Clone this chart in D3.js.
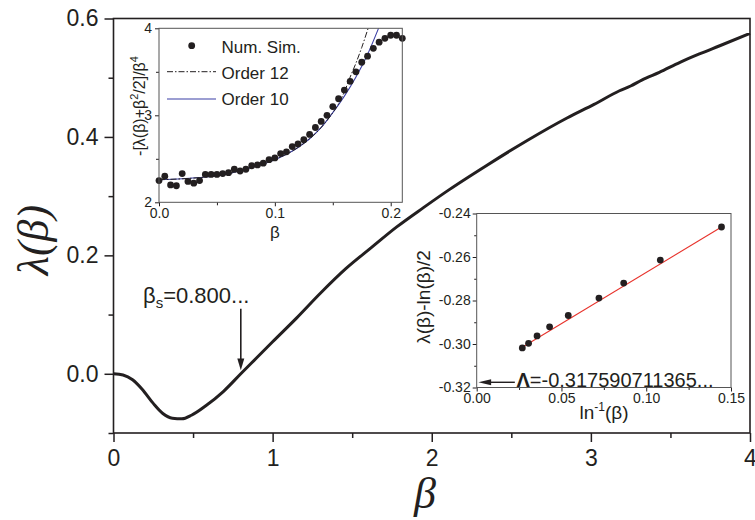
<!DOCTYPE html>
<html>
<head>
<meta charset="utf-8">
<script src="https://cdn.jsdelivr.net/npm/d3@7"></script>
<style>
  body { margin: 0; background: #fff; }
  svg text { font-family: "Liberation Sans", Arial, Helvetica, sans-serif; fill: #231f20; }
</style>
</head>
<body>
<svg id="chart" width="755" height="520"></svg>
<script>
// ---- main curve: Lyapunov exponent λ(β) ----
const betaMain = [0, 0.06, 0.12, 0.18, 0.25, 0.31, 0.37, 0.43, 0.49, 0.58, 0.69, 0.8, 0.9, 1.0,
  1.15, 1.3, 1.46, 1.62, 1.78, 1.95, 2.11, 2.34, 2.6, 2.85, 3.02, 3.18, 3.25, 3.32,
  3.43, 3.56, 3.69, 3.81, 4.0];
const lambdaMain = [0, -0.002, -0.010, -0.026, -0.050, -0.067, -0.075, -0.076, -0.070, -0.054,
  -0.030, 0.0, 0.027, 0.054, 0.094, 0.136, 0.1775, 0.213, 0.248, 0.281, 0.311, 0.351,
  0.394, 0.432, 0.455, 0.478, 0.486, 0.496, 0.509, 0.526, 0.541, 0.554, 0.575];
const mainXTicks = [0, 1, 2, 3, 4];
const mainXMinor = [0.5, 1.5, 2.5, 3.5];
const mainYTicks = [0.0, 0.2, 0.4, 0.6];
const mainYMinor = [-0.1, 0.1, 0.3, 0.5];
const betaS = 0.8;

// ---- small-β inset: -[λ(β)+β²/2]/β⁴ ----
const betaSmall = [0, 0.005, 0.01, 0.015, 0.02, 0.025, 0.03, 0.035, 0.04, 0.045, 0.05, 0.055,
  0.06, 0.065, 0.07, 0.075, 0.08, 0.085, 0.09, 0.095, 0.1, 0.105, 0.11, 0.115, 0.12, 0.125,
  0.13, 0.135, 0.14, 0.145, 0.15, 0.155, 0.16, 0.165, 0.17, 0.175, 0.18, 0.185, 0.19, 0.195,
  0.2, 0.205, 0.21];
const simValues = [2.25, 2.30, 2.20, 2.19, 2.33, 2.24, 2.22, 2.25, 2.32, 2.32, 2.32, 2.33,
  2.34, 2.38, 2.36, 2.38, 2.42, 2.43, 2.45, 2.49, 2.51, 2.56, 2.58, 2.64, 2.67, 2.72,
  2.78, 2.86, 2.93, 3.00, 3.10, 3.19, 3.29, 3.39, 3.50, 3.61, 3.68, 3.77, 3.84, 3.885,
  3.92, 3.92, 3.885];
const order10Beta = [0, 0.02, 0.04, 0.06, 0.08, 0.10, 0.12, 0.13, 0.14, 0.15, 0.16, 0.17, 0.18, 0.1895];
const order10Values = [2.26, 2.27, 2.29, 2.33, 2.40, 2.49, 2.63, 2.73, 2.86, 3.03, 3.22, 3.44, 3.70, 4.0];
const order12Beta = [0, 0.02, 0.04, 0.06, 0.08, 0.10, 0.12, 0.13, 0.14, 0.15, 0.155, 0.16, 0.165, 0.17, 0.175, 0.1805];
const order12Values = [2.26, 2.27, 2.29, 2.33, 2.40, 2.49, 2.63, 2.73, 2.86, 3.03, 3.13, 3.27, 3.44, 3.60, 3.78, 4.0];
const smallXTicks = [0, 0.1, 0.2];
const smallXMinor = [0.05, 0.15];
const smallYTicks = [2, 3, 4];
const smallYMinor = [2.5, 3.5];
const legendLabels = ["Num. Sim.", "Order 12", "Order 10"];

// ---- large-β inset: λ(β) - ln(β)/2 against 1/ln(β) ----
const invLogBeta = [0.0269, 0.0306, 0.0356, 0.0430, 0.0540, 0.0721, 0.0867, 0.1083, 0.1444];
const residual = [-0.3018, -0.2997, -0.2963, -0.2921, -0.2869, -0.2789, -0.2720, -0.2614, -0.2462];
const fitInvLog = [0.0269, 0.1444];
const fitResidual = [-0.3015, -0.2462];
const lambdaConst = -0.3176;
const largeXTicks = [0, 0.05, 0.10, 0.15];
const largeXMinor = [0.025, 0.075, 0.125];
const largeYTicks = [-0.32, -0.30, -0.28, -0.26, -0.24];
const largeYMinor = [-0.31, -0.29, -0.27, -0.25];

const ink = "#231f20";
const svg = d3.select("#chart");

// Draws major + minor outward ticks for one axis
function drawAxis(g, axisFn, scale, major, minor, majorLen, minorLen, fmt, fontSize, pad, width) {
  const a = g.append("g").call(axisFn(scale).tickValues(major).tickSize(majorLen)
    .tickPadding(pad).tickFormat(fmt));
  a.select(".domain").remove();
  a.selectAll("line").attr("stroke", ink).attr("stroke-width", width);
  a.selectAll("text").attr("font-size", fontSize).attr("font-family", null).attr("fill", ink)
    .text(function () { return this.textContent.replace("−", "-"); });
  const m = g.append("g").call(axisFn(scale).tickValues(minor).tickSize(minorLen).tickFormat(""));
  m.select(".domain").remove();
  m.selectAll("line").attr("stroke", ink).attr("stroke-width", width);
  return a;
}

// ================= main panel =================
const M = { left: 113.5, right: 750, top: 18.5, bottom: 433 };
const x = d3.scaleLinear().domain([0, 4]).range([M.left, M.right]);
const y = d3.scaleLinear().domain([-0.1, 0.6]).range([M.bottom, M.top]);

const gx = svg.append("g").attr("transform", `translate(0,${M.bottom})`);
drawAxis(gx, d3.axisBottom, x, mainXTicks, mainXMinor, 9, 5, d3.format("d"), 23, 8, 1.5);
const gy = svg.append("g").attr("transform", `translate(${M.left},0)`);
drawAxis(gy, d3.axisLeft, y, mainYTicks, mainYMinor, 9, 5, d3.format(".1f"), 23, 6, 1.5);

svg.append("rect").attr("x", M.left).attr("y", M.top)
  .attr("width", M.right - M.left).attr("height", M.bottom - M.top)
  .attr("fill", "none").attr("stroke", ink).attr("stroke-width", 1.6);

const mainLine = d3.line().x((d, i) => x(betaMain[i])).y(d => y(d)).curve(d3.curveMonotoneX);
svg.append("path").datum(lambdaMain).attr("d", mainLine)
  .attr("fill", "none").attr("stroke", ink).attr("stroke-width", 3).attr("stroke-linejoin", "round");

// axis titles
svg.append("text").attr("x", 425).attr("y", 508).attr("text-anchor", "middle")
  .style("font-family", "'Liberation Serif', 'Times New Roman', serif")
  .attr("font-style", "italic").attr("font-size", 44).text("β");
svg.append("text").attr("transform", "translate(48,240) rotate(-90)").attr("text-anchor", "middle")
  .style("font-family", "'Liberation Serif', 'Times New Roman', serif")
  .attr("font-style", "italic").attr("font-size", 44).text("λ(β)");

// β_s annotation with arrow
const bsLabel = svg.append("text").attr("x", 143).attr("y", 303).attr("font-size", 22);
bsLabel.append("tspan").text("β");
bsLabel.append("tspan").attr("font-size", 15).attr("dy", 5).text("s");
bsLabel.append("tspan").attr("dy", -5).text("=0.800...");
svg.append("line").attr("x1", x(betaS)).attr("x2", x(betaS))
  .attr("y1", y(0.11)).attr("y2", y(0.02)).attr("stroke", ink).attr("stroke-width", 1.6);
svg.append("path")
  .attr("d", `M${x(betaS) - 3.5},${y(0.026)} L${x(betaS) + 3.5},${y(0.026)} L${x(betaS)},${y(0.006)} Z`)
  .attr("fill", ink);

// ================= small-β inset =================
const S = { left: 159, right: 402.3, top: 28.3, bottom: 202.3 };
const xs = d3.scaleLinear().domain([0, 0.21]).range([S.left, S.right]);
const ys = d3.scaleLinear().domain([2, 4]).range([S.bottom, S.top]);
svg.append("rect").attr("x", S.left).attr("y", S.top).attr("width", S.right - S.left)
  .attr("height", S.bottom - S.top).attr("fill", "#fff");
svg.append("clipPath").attr("id", "clipS").append("rect")
  .attr("x", S.left).attr("y", S.top).attr("width", S.right - S.left).attr("height", S.bottom - S.top);

const gsx = svg.append("g").attr("transform", `translate(0,${S.bottom})`);
drawAxis(gsx, d3.axisBottom, xs, smallXTicks, smallXMinor, 4, 3, d3.format(".1f"), 14, 2, 1);
const gsy = svg.append("g").attr("transform", `translate(${S.left},0)`);
drawAxis(gsy, d3.axisLeft, ys, smallYTicks, smallYMinor, 4, 3, d3.format("d"), 14, 3, 1);

const lineS = (bs) => d3.line().x((d, i) => xs(bs[i])).y(d => ys(d)).curve(d3.curveMonotoneX);
svg.append("path").datum(order10Values).attr("d", lineS(order10Beta)).attr("clip-path", "url(#clipS)")
  .attr("fill", "none").attr("stroke", "#3b3fa5").attr("stroke-width", 1.1);
svg.append("path").datum(order12Values).attr("d", lineS(order12Beta)).attr("clip-path", "url(#clipS)")
  .attr("fill", "none").attr("stroke", ink).attr("stroke-width", 1).attr("stroke-dasharray", "6,2,1.5,2");
svg.append("g").selectAll("circle").data(simValues).join("circle")
  .attr("cx", (d, i) => xs(betaSmall[i])).attr("cy", d => ys(d)).attr("r", 3.4).attr("fill", ink);

svg.append("rect").attr("x", S.left).attr("y", S.top).attr("width", S.right - S.left)
  .attr("height", S.bottom - S.top).attr("fill", "none").attr("stroke", "#555").attr("stroke-width", 1);

// legend
svg.append("circle").attr("cx", 191.7).attr("cy", 45.7).attr("r", 3.4).attr("fill", ink);
svg.append("line").attr("x1", 167).attr("x2", 216).attr("y1", 71.7).attr("y2", 71.7)
  .attr("stroke", ink).attr("stroke-width", 1).attr("stroke-dasharray", "6,2,1.5,2");
svg.append("line").attr("x1", 167).attr("x2", 216).attr("y1", 99).attr("y2", 99)
  .attr("stroke", "#3b3fa5").attr("stroke-width", 1.1);
svg.append("g").selectAll("text").data(legendLabels).join("text")
  .attr("x", 221.5).attr("y", (d, i) => 52.5 + i * 26).attr("font-size", 17).text(d => d);

// inset axis titles
svg.append("text").attr("x", 275).attr("y", 238).attr("text-anchor", "middle").attr("font-size", 17).text("β");
const sLab = svg.append("text").attr("transform", "translate(145,106) rotate(-90)")
  .attr("text-anchor", "middle").attr("font-size", 16);
sLab.append("tspan").text("-[λ(β)+β");
sLab.append("tspan").attr("font-size", 11).attr("dy", -7).text("2");
sLab.append("tspan").attr("dy", 7).text("/2]/β");
sLab.append("tspan").attr("font-size", 11).attr("dy", -7).text("4");

// ================= large-β inset =================
const L = { left: 476.7, right: 731, top: 213.5, bottom: 387.5 };
const xl = d3.scaleLinear().domain([0, 0.15]).range([L.left, L.right]);
const yl = d3.scaleLinear().domain([-0.32, -0.24]).range([L.bottom, L.top]);
svg.append("rect").attr("x", L.left).attr("y", L.top).attr("width", L.right - L.left)
  .attr("height", L.bottom - L.top).attr("fill", "#fff");

const glx = svg.append("g").attr("transform", `translate(0,${L.bottom})`);
drawAxis(glx, d3.axisBottom, xl, largeXTicks, largeXMinor, 4, 2.5, d3.format(".2f"), 14, 2, 1);
const gly = svg.append("g").attr("transform", `translate(${L.left},0)`);
drawAxis(gly, d3.axisLeft, yl, largeYTicks, largeYMinor, 4, 2.5, d3.format(".2f"), 14, 2, 1);

svg.append("path").datum(fitResidual)
  .attr("d", d3.line().x((d, i) => xl(fitInvLog[i])).y(d => yl(d)))
  .attr("fill", "none").attr("stroke", "#e8322b").attr("stroke-width", 1.1);
svg.append("g").selectAll("circle").data(residual).join("circle")
  .attr("cx", (d, i) => xl(invLogBeta[i])).attr("cy", d => yl(d)).attr("r", 3.4).attr("fill", ink);

svg.append("rect").attr("x", L.left).attr("y", L.top).attr("width", L.right - L.left)
  .attr("height", L.bottom - L.top).attr("fill", "none").attr("stroke", "#555").attr("stroke-width", 1);

// extrapolated constant Λ
svg.append("line").attr("x1", xl(0.0225)).attr("x2", xl(0.007))
  .attr("y1", yl(lambdaConst)).attr("y2", yl(lambdaConst)).attr("stroke", ink).attr("stroke-width", 1.4);
svg.append("path")
  .attr("d", `M${xl(0.0085)},${yl(lambdaConst) - 3} L${xl(0.0085)},${yl(lambdaConst) + 3} L${xl(0.001)},${yl(lambdaConst)} Z`)
  .attr("fill", ink);
const lamLab = svg.append("text").attr("x", 516.5).attr("y", 386.5).attr("font-size", 20);
lamLab.append("tspan").attr("font-weight", "bold").text("Λ");
lamLab.append("tspan").text("=-0.317590711365...");

// inset axis titles
const lxLab = svg.append("text").attr("x", 604).attr("y", 419).attr("text-anchor", "middle").attr("font-size", 19);
lxLab.append("tspan").text("ln");
lxLab.append("tspan").attr("font-size", 12).attr("dy", -8).text("-1");
lxLab.append("tspan").attr("dy", 8).text("(β)");
svg.append("text").attr("transform", "translate(430,297) rotate(-90)").attr("text-anchor", "middle")
  .attr("font-size", 19).text("λ(β)-ln(β)/2");
</script>
</body>
</html>
